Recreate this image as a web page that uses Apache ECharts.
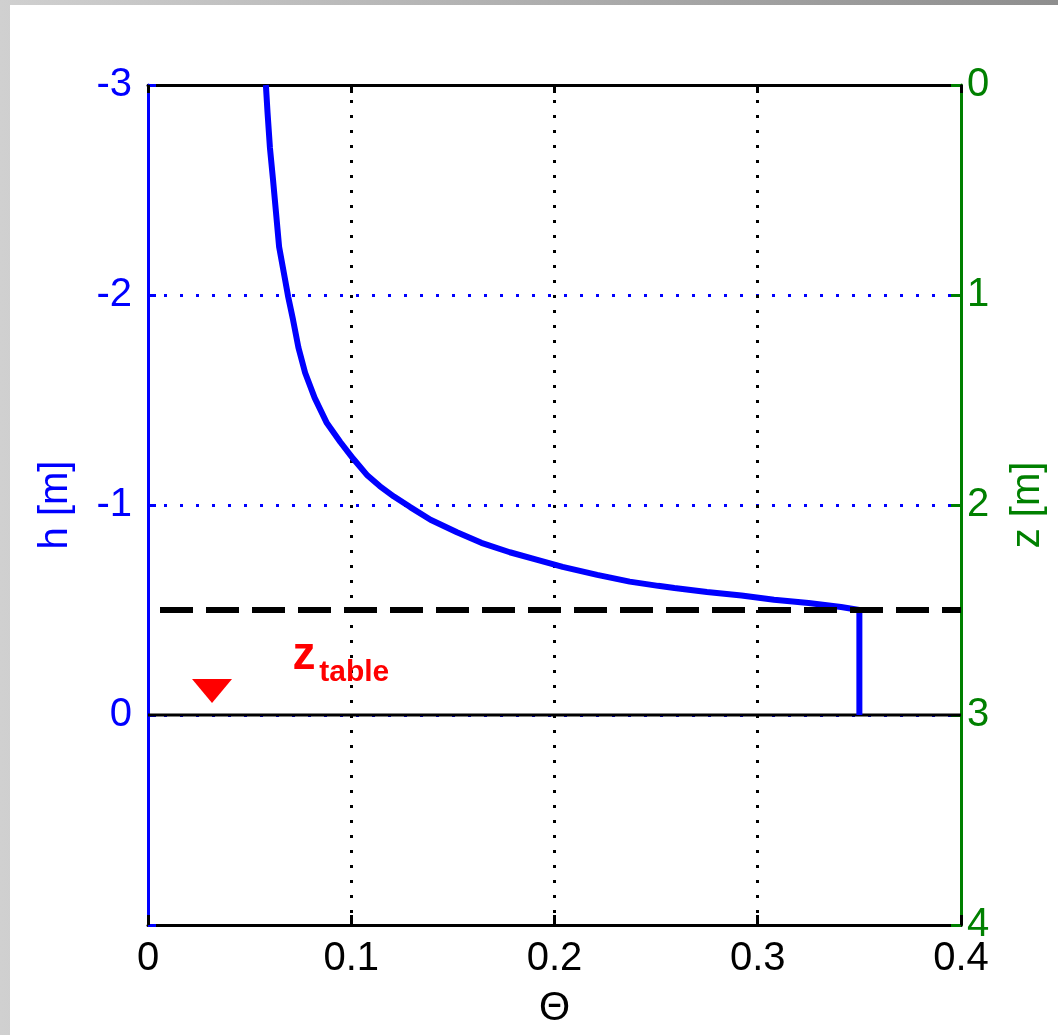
<!DOCTYPE html>
<html>
<head>
<meta charset="utf-8">
<title>h / z vs theta</title>
<script src="https://cdn.jsdelivr.net/npm/echarts@6/dist/echarts.min.js"></script>
<style>
	html, body { margin: 0; padding: 0; width: 1058px; height: 1035px; overflow: hidden; }
	#frame { position: absolute; left: 0; top: 0; width: 1058px; height: 1035px; background: linear-gradient(to right, #d0d0d0, #8e8e8e); }
	#paper { position: absolute; left: 10px; top: 5px; right: 0; bottom: 0; background: #fff; }
	#chart { position: absolute; left: 0; top: 0; width: 1058px; height: 1035px; }
</style>
</head>
<body>
<div id="frame"><div id="paper"></div></div>
<div id="chart"></div>
<script>
	// retention curve: theta [-] vs pressure head h [m]
	const theta = [0.058, 0.0588, 0.060, 0.0615, 0.063, 0.0645, 0.0675, 0.069, 0.0714, 0.074,
		0.0773, 0.082, 0.088, 0.0946, 0.101, 0.108, 0.114, 0.121, 0.129, 0.139,
		0.152, 0.164, 0.178, 0.192, 0.204, 0.221, 0.237, 0.251, 0.259, 0.275,
		0.292, 0.308, 0.325, 0.341, 0.350, 0.350];
	const head = [-3.0, -2.87, -2.70, -2.55, -2.39, -2.23, -2.07, -1.99, -1.88, -1.75,
		-1.63, -1.51, -1.39, -1.30, -1.22, -1.14, -1.09, -1.04, -0.99, -0.93,
		-0.87, -0.82, -0.775, -0.738, -0.705, -0.667, -0.635, -0.615, -0.605, -0.586,
		-0.569, -0.549, -0.533, -0.514, -0.50, 0];

	const thetaRange = [0, 0.4];
	const hRange = [-3, 1];
	const zRange = [0, 4];
	const hTickLabels = ['-3', '-2', '-1', '0'];

	const tableLevel = -0.5;   // dashed line
	const groundLevel = 0;     // solid line
	const tableMarker = [0.0315, -0.114];
	const zLabelAt = [0.0768, -0.28];
	const tableLabelAt = [0.1015, -0.20];

	const font = 'Liberation Sans, Arial, sans-serif';
	const blue = '#0000ff', green = '#008000', red = '#ff0000';

	let chart = echarts.init(document.getElementById('chart'));

	let option = {
		animation: false,
		grid: { left: 148, right: 97, top: 85, bottom: 110 },
		xAxis: [{
			type: 'value',
			min: thetaRange[0], max: thetaRange[1], interval: 0.1,
			name: 'Θ', nameLocation: 'middle', nameGap: 64,
			nameTextStyle: { color: '#000', fontSize: 40, fontFamily: font },
			axisLine: { onZero: false, lineStyle: { color: '#000', width: 3 } },
			axisTick: { inside: true, length: 10, lineStyle: { color: '#000', width: 3 } },
			axisLabel: { color: '#000', fontSize: 40, fontFamily: font, margin: 14, showMaxLabel: true, showMinLabel: true },
			splitLine: { show: true, showMinLine: false, showMaxLine: false, lineStyle: { color: '#000', width: 3, type: [3, 12] } }
		}, {
			type: 'value', position: 'top',
			min: thetaRange[0], max: thetaRange[1], interval: 0.1,
			axisLine: { onZero: false, lineStyle: { color: '#000', width: 3 } },
			axisTick: { inside: true, length: 8, lineStyle: { color: '#000', width: 3 } },
			axisLabel: { show: false },
			splitLine: { show: false }
		}],
		yAxis: [{
			type: 'value', position: 'left', inverse: true,
			min: hRange[0], max: hRange[1], interval: 1,
			name: 'h [m]', nameLocation: 'middle', nameGap: 72, nameRotate: 90,
			nameTextStyle: { color: blue, fontSize: 40, fontFamily: font },
			axisLine: { onZero: false, lineStyle: { color: blue, width: 3 } },
			axisTick: { inside: true, length: 8, lineStyle: { color: blue, width: 3 } },
			axisLabel: {
				color: blue, fontSize: 40, fontFamily: font, margin: 16,
				formatter: v => hTickLabels.indexOf(String(v)) >= 0 ? String(v) : ''
			},
			splitLine: { show: true, showMinLine: false, showMaxLine: false, lineStyle: { color: blue, width: 3, type: [3, 13] } }
		}, {
			type: 'value', position: 'right', inverse: true,
			min: zRange[0], max: zRange[1], interval: 1,
			name: 'z [m]', nameLocation: 'middle', nameGap: 47, nameRotate: 90,
			nameTextStyle: { color: green, fontSize: 40, fontFamily: font },
			axisLine: { onZero: false, lineStyle: { color: green, width: 3 } },
			axisTick: { inside: true, length: 10, lineStyle: { color: green, width: 3 } },
			axisLabel: { color: green, fontSize: 40, fontFamily: font, margin: 6 },
			splitLine: { show: false }
		}],
		series: [{
			name: 'ground',
			type: 'line',
			data: [[thetaRange[0], groundLevel], [thetaRange[1], groundLevel]],
			showSymbol: false, silent: true, z: 2,
			lineStyle: { color: '#000', width: 3 }
		}, {
			name: 'theta(h)',
			type: 'line',
			data: theta.map((t, i) => [t, head[i]]),
			showSymbol: false, z: 3,
			lineStyle: { color: blue, width: 6 }
		}, {
			name: 'table',
			type: 'line',
			data: [[thetaRange[0], tableLevel], [thetaRange[1], tableLevel]],
			showSymbol: false, silent: true, z: 4,
			lineStyle: { color: '#000', width: 6, type: [33, 13], dashOffset: 34 }
		}, {
			name: 'marker',
			type: 'scatter',
			data: [tableMarker],
			symbol: 'triangle', symbolRotate: 180, symbolSize: [40, 24],
			itemStyle: { color: red, opacity: 1 }, z: 5
		}, {
			name: 'labels',
			type: 'scatter',
			symbolSize: 0, z: 5,
			itemStyle: { color: red, opacity: 1 },
			data: [{
				value: zLabelAt,
				label: { show: true, position: 'inside', formatter: 'z', color: red, fontSize: 46, fontWeight: 'bold', fontFamily: font }
			}, {
				value: tableLabelAt,
				label: { show: true, position: 'inside', formatter: 'table', color: red, fontSize: 30, fontWeight: 'bold', fontFamily: font }
			}]
		}]
	};

	chart.setOption(option);
</script>
</body>
</html>
